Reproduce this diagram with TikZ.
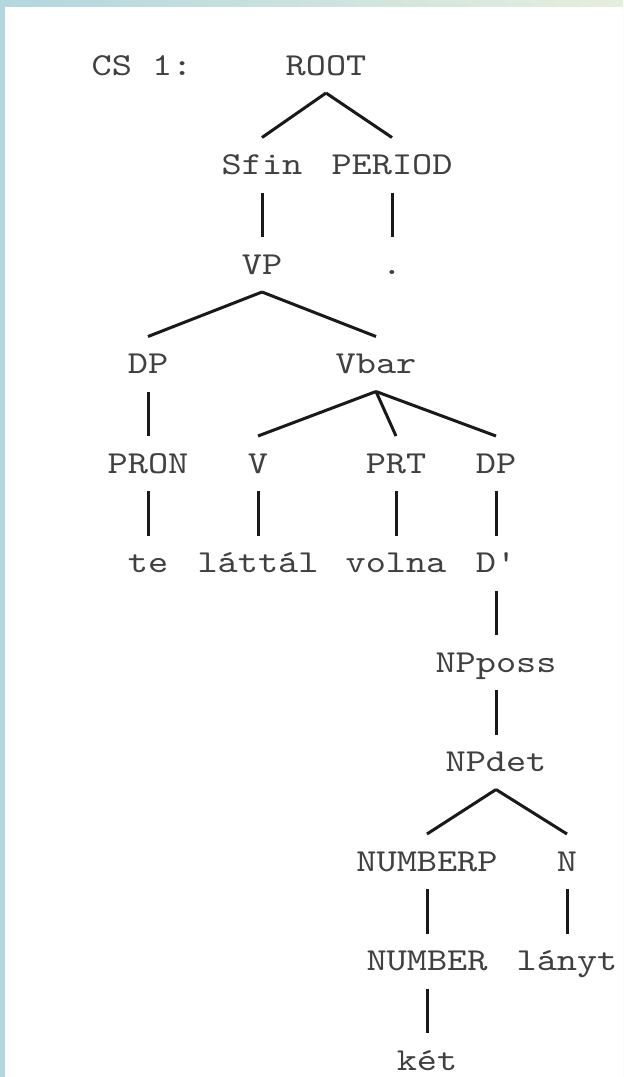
\documentclass[tikz,border=0pt]{standalone}
\usepackage{fontspec}
\newfontfamily\treefont[FakeStretch=1.2]{lmmono10-regular.otf}
\usepackage{tikz}
\usetikzlibrary{positioning}
\definecolor{edgeblue}{RGB}{180,214,222}
\definecolor{edgegreen}{RGB}{230,238,222}
\tikzset{cat/.style =
   {rectangle,
    font=\treefont\fontsize{16pt}{16pt}\selectfont,
    text=black!75,
    inner sep=0pt,
    outer sep=9pt,
    text height=9.5pt,
    text depth=0pt,
    anchor=base}}
\tikzset{branch/.style = {draw, line width=1.5pt, black!90}}

\begin{document}
\begin{tikzpicture}[node distance = 49.75pt]

    % sheet with its coloured edge
    \useasboundingbox (0,0) rectangle (311.5pt,-538.5pt);
    \fill [left color=edgeblue, right color=edgegreen] (0,0) rectangle (311.5pt,-538.5pt);
    \fill [white] (2.5pt,-3.5pt) rectangle (311.5pt,-538.5pt);

    \node [cat] (root) at (163pt,-37.5pt) {ROOT};
    \node [cat,
           left = 92pt of root.base,
           anchor=base] (cs) {CS 1:};

    % sentence and final period
    \node [cat,
           below left = 49.75pt and 32pt of root.base,
           anchor=base] (sfin) {Sfin};
    \node [cat,
           below right = 49.75pt and 33pt of root.base,
           anchor=base] (period) {PERIOD};
    \node [cat, below = of sfin.base, anchor=base] (vp) {VP};
    \node [cat, below = of period.base, anchor=base] (dot) {.};

    % verb phrase
    \node [cat,
           below left = 49.75pt and 57pt of vp.base,
           anchor=base] (dp) {DP};
    \node [cat,
           below right = 49.75pt and 57pt of vp.base,
           anchor=base] (vbar) {Vbar};
    \node [cat, below = of dp.base, anchor=base] (pron) {PRON};
    \node [cat, below = of pron.base, anchor=base] (te) {te};

    \node [cat,
           below left = 49.75pt and 59pt of vbar.base,
           anchor=base] (v) {V};
    \node [cat,
           below right = 49.75pt and 10pt of vbar.base,
           anchor=base] (prt) {PRT};
    \node [cat,
           below right = 49.75pt and 60pt of vbar.base,
           anchor=base] (dpobj) {DP};
    \node [cat, below = of v.base, anchor=base] (lattal) {láttál};
    \node [cat, below = of prt.base, anchor=base] (volna) {volna};
    \node [cat, below = of dpobj.base, anchor=base] (dbar) {D'};

    % object noun phrase
    \node [cat, below = of dbar.base, anchor=base] (npposs) {NPposs};
    \node [cat, below = of npposs.base, anchor=base] (npdet) {NPdet};
    \node [cat,
           below left = 49.75pt and 34.5pt of npdet.base,
           anchor=base] (numberp) {NUMBERP};
    \node [cat,
           below right = 49.75pt and 35.5pt of npdet.base,
           anchor=base] (n) {N};
    \node [cat, below = of numberp.base, anchor=base] (number) {NUMBER};
    \node [cat, below = of n.base, anchor=base] (lanyt) {lányt};
    \node [cat, below = of number.base, anchor=base] (ket) {két};

    % branches
    \path [branch] (root.south) -- (sfin.north);
    \path [branch] (root.south) -- (period.north);
    \path [branch] (sfin.south) -- (vp.north);
    \path [branch] (period.south) -- (dot.north);
    \path [branch] (vp.south) -- (dp.north);
    \path [branch] (vp.south) -- (vbar.north);
    \path [branch] (dp.south) -- (pron.north);
    \path [branch] (pron.south) -- (te.north);
    \path [branch] (vbar.south) -- (v.north);
    \path [branch] (vbar.south) -- (prt.north);
    \path [branch] (vbar.south) -- (dpobj.north);
    \path [branch] (v.south) -- (lattal.north);
    \path [branch] (prt.south) -- (volna.north);
    \path [branch] (dpobj.south) -- (dbar.north);
    \path [branch] (dbar.south) -- (npposs.north);
    \path [branch] (npposs.south) -- (npdet.north);
    \path [branch] (npdet.south) -- (numberp.north);
    \path [branch] (npdet.south) -- (n.north);
    \path [branch] (numberp.south) -- (number.north);
    \path [branch] (n.south) -- (lanyt.north);
    \path [branch] (number.south) -- (ket.north);

\end{tikzpicture}
\end{document}
